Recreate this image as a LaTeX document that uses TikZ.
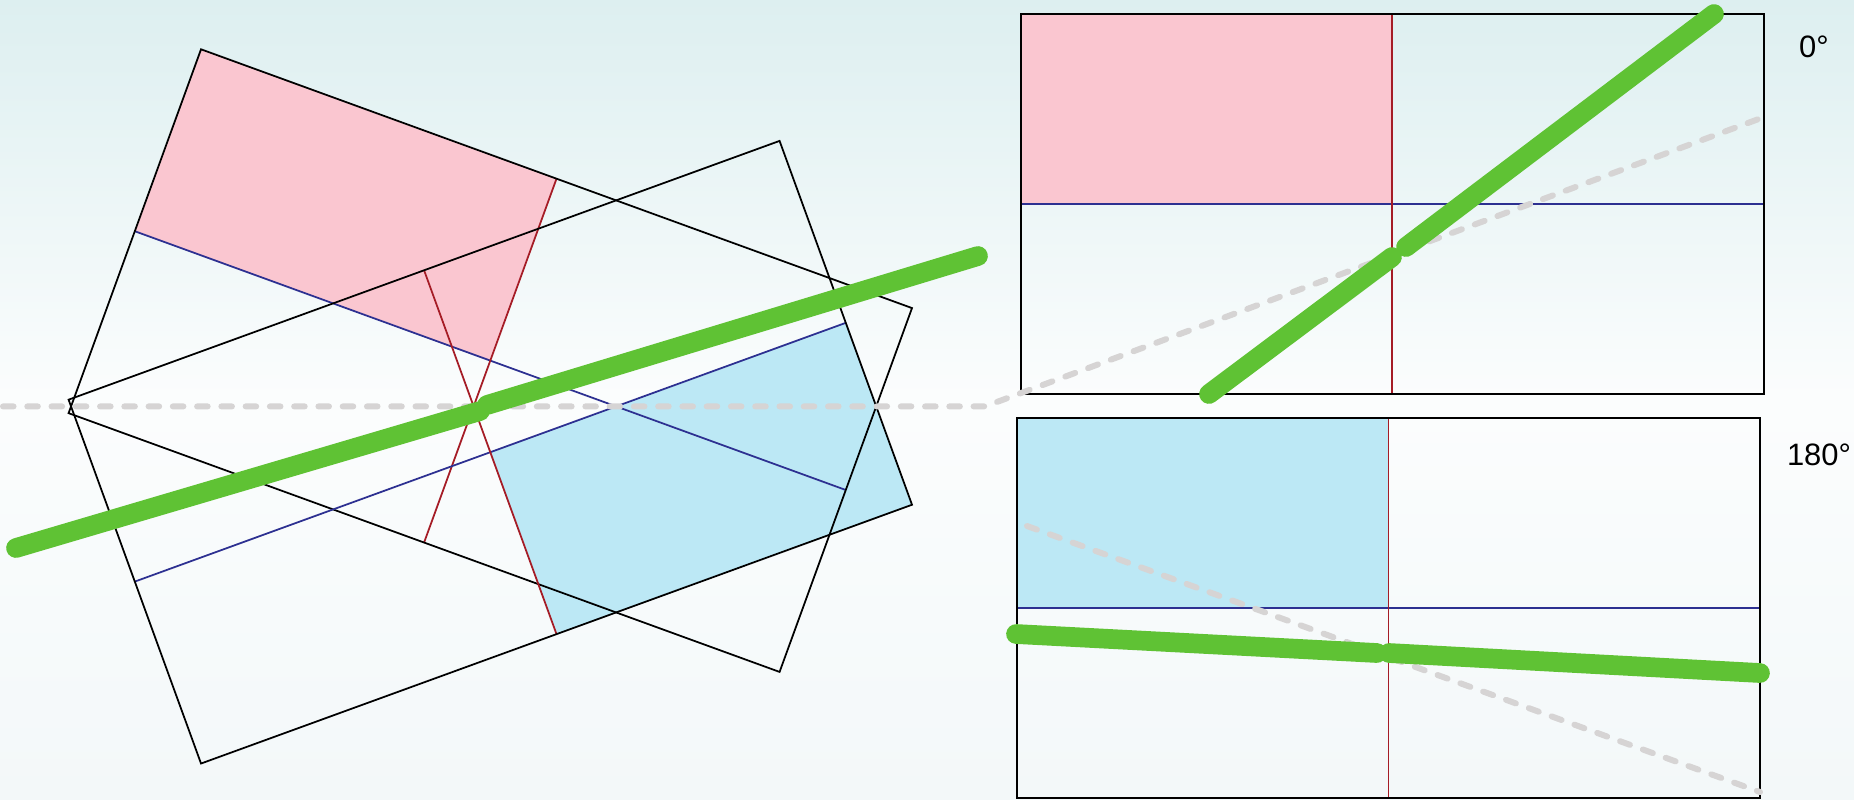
\documentclass[tikz,border=0pt]{standalone}
\usepackage{fontspec}
\setmainfont{Liberation Sans}
\definecolor{bgtop}{RGB}{221,239,240}
\definecolor{bgbot}{RGB}{243,248,249}
\definecolor{quadpink}{RGB}{250,198,208}
\definecolor{quadblue}{RGB}{188,232,245}
\definecolor{midnavy}{RGB}{45,48,145}
\definecolor{midred}{RGB}{165,28,38}
\definecolor{trackgreen}{RGB}{95,194,52}
\definecolor{horizongray}{RGB}{214,212,212}
\tikzset{
  outline/.style={draw=black, line width=0.5pt},
  midh/.style={draw=midnavy, line width=0.5pt},
  midv/.style={draw=midred, line width=0.5pt},
  track/.style={draw=trackgreen, line width=5.6pt, line cap=round},
  horizon/.style={draw=horizongray, line width=1.7pt, line cap=round, dash pattern=on 3pt off 3.9pt},
  deg/.style={font=\fontsize{8.8}{10}\selectfont, inner sep=0pt}
}
\begin{document}
\begin{tikzpicture}[x=0.01cm, y=-0.01cm]
\useasboundingbox (0,0) rectangle (1854,799);
\shade[top color=bgtop, bottom color=bgbot, middle color=white!70!bgbot] (0,0) rectangle (1854,799);

\begin{scope}[shift={(490.3,360.6)}, rotate=-20]
  \fill[quadpink] (-378.3,-193.6) rectangle (0,0);
\end{scope}
\begin{scope}[shift={(490.3,452.2)}, rotate=20]
  \fill[quadblue] (0,0) rectangle (378.3,193.6);
\end{scope}
\foreach \rot/\cy in {-20/360.6, 20/452.2} {
  \begin{scope}[shift={(490.3,\cy)}, rotate=\rot]
    \draw[midh] (-378.3,0) -- (378.3,0);
    \draw[midv] (0,-193.6) -- (0,193.6);
    \draw[outline] (-378.3,-193.6) rectangle (378.3,193.6);
  \end{scope}
}

\foreach \x/\y/\c in {1020.7/14/quadpink, 1017/418/quadblue} {
  \fill[\c] (\x,\y) rectangle (\x+371.6,\y+190);
  \draw[midh] (\x,\y+190) -- (\x+743.3,\y+190);
  \draw[midv] (\x+371.6,\y) -- (\x+371.6,\y+380);
  \draw[outline] (\x,\y) rectangle (\x+743.3,\y+380);
}

\draw[horizon] (3,406.4) -- (985,406.4) -- (1764,117);
\draw[horizon] (1027,526) -- (1760,792);

\draw[track] (16,548) -- (480,411);
\draw[track] (487,405) -- (978,256);
\draw[track] (1209,394) -- (1392,257);
\draw[track] (1406,247) -- (1714,14);
\draw[track] (1016,634) -- (1377,653);
\draw[track] (1389,653) -- (1760,673);

\node[deg] (lab0) at (1814,47) {0°};
\node[deg] (lab180) at (1819,455) {180°};
\end{tikzpicture}
\end{document}
